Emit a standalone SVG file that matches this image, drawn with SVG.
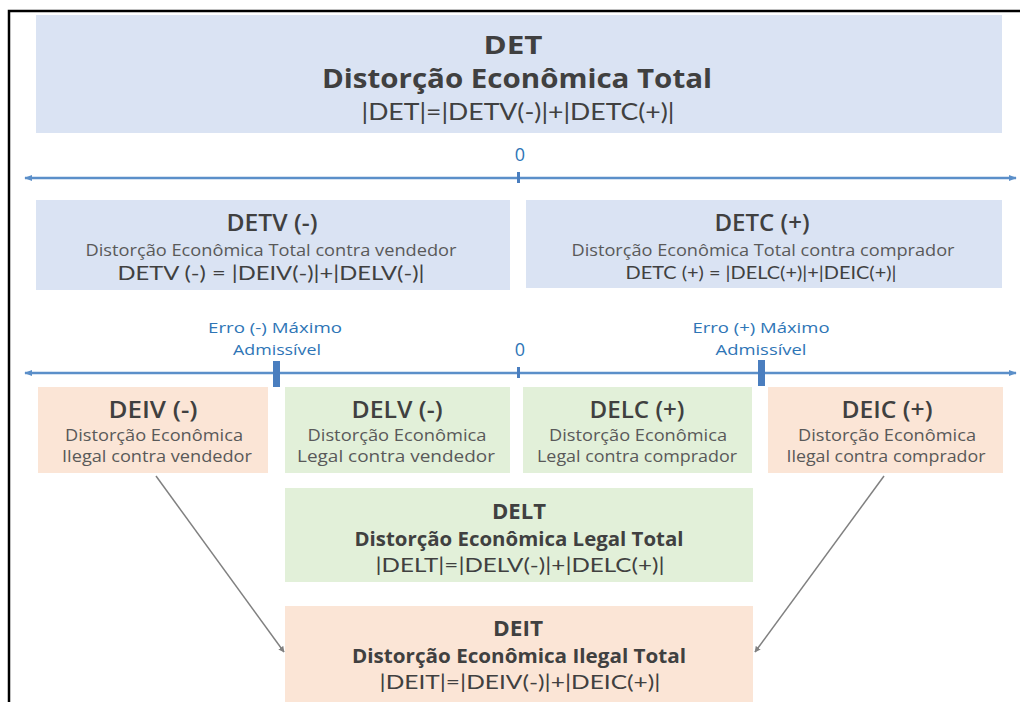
<svg xmlns="http://www.w3.org/2000/svg" width="1020" height="702" viewBox="0 0 1020 702">
<defs>
<style>
.bg{fill:#ffffff}
.blue{fill:#dae3f3}
.green{fill:#e2f0d9}
.peach{fill:#fbe5d6}
.t{font-family:"Open Sans","DejaVu Sans",sans-serif;text-anchor:middle;fill:#404040}
.h{font-weight:700}
.s{font-weight:600}
.sub{fill:#595959}
.f{font-family:Lato,"Liberation Sans",sans-serif;text-anchor:middle;fill:#404040}
.lb{font-family:"Open Sans","DejaVu Sans",sans-serif;text-anchor:middle;fill:#2e75b6}
.axis{stroke:#5b8fc9;stroke-width:2.5;fill:none}
.tick{fill:#4a7ebf}
.conn{stroke:#808080;stroke-width:1.5;fill:none}
</style>
<marker id="ah" viewBox="0 0 10 10" refX="9" refY="5" markerWidth="6" markerHeight="6" markerUnits="userSpaceOnUse" orient="auto">
<path d="M0,0 L10,5 L0,10 z" fill="#808080"/>
</marker>
<marker id="axh" viewBox="0 0 10 10" refX="9" refY="5" markerWidth="8" markerHeight="8" markerUnits="userSpaceOnUse" orient="auto-start-reverse">
<path d="M0,1 L10,5 L0,9 z" fill="#5b8fc9"/>
</marker>
</defs>
<rect class="bg" x="0" y="0" width="1020" height="702"/>
<path d="M9,702 V11 H1020" stroke="#000" stroke-width="2.5" fill="none"/>

<g id="DET">
<rect class="blue" x="36" y="15" width="966" height="118"/>
<text class="t h" x="513" y="54" font-size="25" textLength="59" lengthAdjust="spacingAndGlyphs">DET</text>
<text class="t h" x="517" y="88" font-size="27" textLength="390" lengthAdjust="spacingAndGlyphs">Distorção Econômica Total</text>
<text class="f" x="518" y="120" font-size="23" textLength="313" lengthAdjust="spacingAndGlyphs">|DET|=|DETV(-)|+|DETC(+)|</text>
</g>

<g id="axis1">
<line class="axis" x1="25" y1="178" x2="1016" y2="178" marker-start="url(#axh)" marker-end="url(#axh)"/>
<rect class="tick" x="517" y="172" width="3" height="11"/>
<text class="lb" x="520" y="161" font-size="18">0</text>
</g>

<g id="DETV">
<rect class="blue" x="36" y="200" width="474" height="90"/>
<text class="t s" x="272" y="231" font-size="24" textLength="91" lengthAdjust="spacingAndGlyphs">DETV (-)</text>
<text class="t sub" x="271" y="256" font-size="16" textLength="371" lengthAdjust="spacingAndGlyphs">Distorção Econômica Total contra vendedor</text>
<text class="f" x="271" y="280" font-size="20" textLength="307" lengthAdjust="spacingAndGlyphs">DETV (-) = |DEIV(-)|+|DELV(-)|</text>
</g>

<g id="DETC">
<rect class="blue" x="526" y="200" width="476" height="88"/>
<text class="t s" x="762" y="231" font-size="24" textLength="95" lengthAdjust="spacingAndGlyphs">DETC (+)</text>
<text class="t sub" x="763" y="256" font-size="16" textLength="383" lengthAdjust="spacingAndGlyphs">Distorção Econômica Total contra comprador</text>
<text class="f" x="761" y="279" font-size="18" textLength="271" lengthAdjust="spacingAndGlyphs">DETC (+) =  |DELC(+)|+|DEIC(+)|</text>
</g>

<g id="axis2">
<line class="axis" x1="25" y1="373" x2="1016" y2="373" marker-start="url(#axh)" marker-end="url(#axh)"/>
<rect class="tick" x="273" y="361" width="7" height="26"/>
<rect class="tick" x="758" y="360" width="7" height="26"/>
<rect class="tick" x="517" y="367" width="3" height="11"/>
<text class="lb" x="275" y="333" font-size="15" textLength="134" lengthAdjust="spacingAndGlyphs">Erro (-) Máximo</text>
<text class="lb" x="277" y="355" font-size="15" textLength="88" lengthAdjust="spacingAndGlyphs">Admissível</text>
<text class="lb" x="520" y="356" font-size="18">0</text>
<text class="lb" x="761" y="333" font-size="15" textLength="137" lengthAdjust="spacingAndGlyphs">Erro (+) Máximo</text>
<text class="lb" x="761" y="355" font-size="15" textLength="91" lengthAdjust="spacingAndGlyphs">Admissível</text>
</g>

<g id="DEIV">
<rect class="peach" x="38" y="387" width="230" height="86"/>
<text class="t s" x="153" y="418" font-size="23" textLength="89" lengthAdjust="spacingAndGlyphs">DEIV (-)</text>
<text class="t sub" x="154" y="441" font-size="17" textLength="178" lengthAdjust="spacingAndGlyphs">Distorção Econômica</text>
<text class="t sub" x="157" y="462" font-size="17" textLength="190" lengthAdjust="spacingAndGlyphs">Ilegal contra vendedor</text>
</g>

<g id="DELV">
<rect class="green" x="285" y="387" width="225" height="86"/>
<text class="t s" x="397" y="418" font-size="23" textLength="91" lengthAdjust="spacingAndGlyphs">DELV (-)</text>
<text class="t sub" x="397" y="441" font-size="17" textLength="179" lengthAdjust="spacingAndGlyphs">Distorção Econômica</text>
<text class="t sub" x="396" y="462" font-size="17" textLength="198" lengthAdjust="spacingAndGlyphs">Legal contra vendedor</text>
</g>

<g id="DELC">
<rect class="green" x="523" y="387" width="229" height="86"/>
<text class="t s" x="637" y="418" font-size="23" textLength="95" lengthAdjust="spacingAndGlyphs">DELC (+)</text>
<text class="t sub" x="638" y="441" font-size="17" textLength="178" lengthAdjust="spacingAndGlyphs">Distorção Econômica</text>
<text class="t sub" x="637" y="462" font-size="17" textLength="200" lengthAdjust="spacingAndGlyphs">Legal contra comprador</text>
</g>

<g id="DEIC">
<rect class="peach" x="768" y="387" width="235" height="86"/>
<text class="t s" x="887" y="418" font-size="23" textLength="91" lengthAdjust="spacingAndGlyphs">DEIC (+)</text>
<text class="t sub" x="887" y="441" font-size="17" textLength="178" lengthAdjust="spacingAndGlyphs">Distorção Econômica</text>
<text class="t sub" x="886" y="462" font-size="17" textLength="199" lengthAdjust="spacingAndGlyphs">Ilegal contra comprador</text>
</g>

<g id="DELT">
<rect class="green" x="285" y="488" width="468" height="94"/>
<text class="t h" x="519" y="519" font-size="21" textLength="54" lengthAdjust="spacingAndGlyphs">DELT</text>
<text class="t h" x="519" y="546" font-size="19" textLength="329" lengthAdjust="spacingAndGlyphs">Distorção Econômica Legal Total</text>
<text class="f" x="520" y="572" font-size="20" textLength="289" lengthAdjust="spacingAndGlyphs">|DELT|=|DELV(-)|+|DELC(+)|</text>
</g>

<g id="DEIT">
<rect class="peach" x="285" y="606" width="468" height="96"/>
<text class="t h" x="518" y="636" font-size="21" textLength="50" lengthAdjust="spacingAndGlyphs">DEIT</text>
<text class="t h" x="519" y="663" font-size="19" textLength="334" lengthAdjust="spacingAndGlyphs">Distorção Econômica Ilegal Total</text>
<text class="f" x="520" y="689" font-size="20" textLength="281" lengthAdjust="spacingAndGlyphs">|DEIT|=|DEIV(-)|+|DEIC(+)|</text>
</g>

<g id="connectors">
<line class="conn" x1="156" y1="476" x2="284" y2="652" marker-end="url(#ah)"/>
<line class="conn" x1="884" y1="476" x2="755" y2="652" marker-end="url(#ah)"/>
</g>
</svg>
